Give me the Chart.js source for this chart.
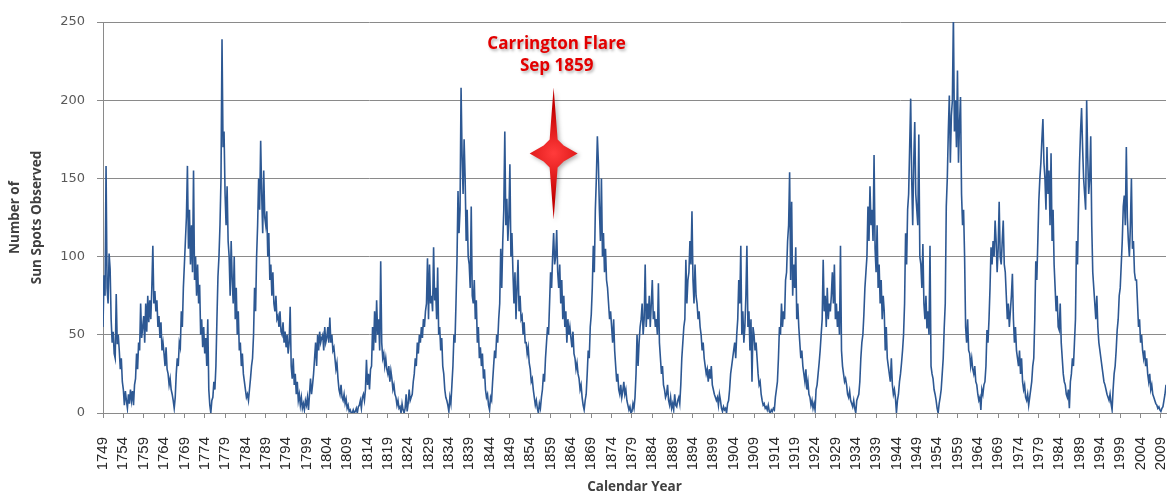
<!DOCTYPE html>
<html>
<head>
<meta charset="utf-8">
<script src="https://cdn.jsdelivr.net/npm/chart.js@4.4.1/dist/chart.umd.min.js"></script>
<style>
  html, body { margin: 0; padding: 0; background: #fff; }
  #wrap { width: 1167px; height: 496px; }
</style>
</head>
<body>
<div id="wrap"><canvas id="ch-sunspots" width="1167" height="496"></canvas></div>
<script>
// ── Datos: manchas solares, 4 lecturas por año desde 1749 ────────────────
const START_YEAR = 1749;
const PER_YEAR   = 4;

const SUNSPOTS = [
/*1749*/ 55, 88, 75, 158,   /*1750*/ 80, 70, 102, 92,   /*1751*/ 60, 45, 52, 38,
/*1752*/ 35, 76, 44, 50,    /*1753*/ 40, 28, 35, 20,    /*1754*/ 15, 5, 14, 8,
/*1755*/ 3, 12, 6, 15,      /*1756*/ 8, 14, 5, 18,      /*1757*/ 22, 38, 28, 45,
/*1758*/ 40, 70, 48, 55,    /*1759*/ 62, 45, 70, 52,    /*1760*/ 75, 58, 72, 60,
/*1761*/ 80, 107, 70, 78,   /*1762*/ 65, 72, 55, 62,    /*1763*/ 48, 58, 40, 45,
/*1764*/ 38, 30, 42, 28,    /*1765*/ 25, 18, 22, 15,    /*1766*/ 12, 8, 3, 10,
/*1767*/ 25, 35, 30, 45,    /*1768*/ 42, 65, 55, 80,    /*1769*/ 95, 110, 125, 158,
/*1770*/ 105, 130, 95, 120, /*1771*/ 90, 155, 85, 100,  /*1772*/ 75, 95, 70, 82,
/*1773*/ 50, 60, 42, 55,    /*1774*/ 38, 48, 30, 60,    /*1775*/ 15, 5, 0, 8,
/*1776*/ 10, 20, 15, 30,    /*1777*/ 60, 87, 100, 120,  /*1778*/ 150, 239, 170, 180,
/*1779*/ 140, 120, 145, 110,/*1780*/ 100, 75, 110, 85,  /*1781*/ 70, 100, 60, 80,
/*1782*/ 50, 65, 40, 45,    /*1783*/ 30, 38, 25, 20,    /*1784*/ 15, 10, 12, 8,
/*1785*/ 15, 22, 30, 35,    /*1786*/ 50, 80, 65, 100,   /*1787*/ 120, 150, 130, 174,
/*1788*/ 140, 115, 155, 125,/*1789*/ 120, 129, 100, 115,/*1790*/ 85, 95, 75, 90,
/*1791*/ 70, 65, 75, 60,    /*1792*/ 62, 55, 65, 52,    /*1793*/ 50, 58, 45, 52,
/*1794*/ 42, 50, 38, 45,    /*1795*/ 68, 30, 22, 35,    /*1796*/ 18, 25, 12, 20,
/*1797*/ 8, 12, 5, 10,      /*1798*/ 3, 6, 2, 8,        /*1799*/ 5, 10, 2, 12,
/*1800*/ 22, 12, 18, 25,    /*1801*/ 35, 45, 30, 50,    /*1802*/ 40, 52, 45, 48,
/*1803*/ 50, 40, 55, 45,    /*1804*/ 48, 55, 45, 61,    /*1805*/ 45, 50, 40, 42,
/*1806*/ 35, 28, 32, 22,    /*1807*/ 15, 12, 18, 10,    /*1808*/ 8, 12, 6, 9,
/*1809*/ 3, 5, 1, 2,        /*1810*/ 0, 0, 2, 0,        /*1811*/ 1, 3, 0, 4,
/*1812*/ 5, 8, 3, 10,       /*1813*/ 12, 8, 15, 34,     /*1814*/ 18, 25, 15, 28,
/*1815*/ 30, 55, 40, 65,    /*1816*/ 45, 72, 50, 60,    /*1817*/ 40, 97, 45, 35,
/*1818*/ 38, 30, 35, 28,    /*1819*/ 25, 30, 20, 27,    /*1820*/ 22, 15, 18, 12,
/*1821*/ 10, 5, 8, 3,       /*1822*/ 4, 0, 6, 2,        /*1823*/ 0, 3, 12, 1,
/*1824*/ 6, 15, 8, 10,      /*1825*/ 12, 20, 25, 35,    /*1826*/ 30, 45, 38, 50,
/*1827*/ 45, 55, 48, 60,    /*1828*/ 55, 65, 70, 99,    /*1829*/ 60, 95, 70, 75,
/*1830*/ 65, 106, 72, 80,   /*1831*/ 60, 93, 50, 55,    /*1832*/ 40, 48, 30, 25,
/*1833*/ 15, 10, 8, 5,      /*1834*/ 1, 10, 6, 18,      /*1835*/ 30, 50, 45, 70,
/*1836*/ 98, 142, 115, 130, /*1837*/ 208, 165, 140, 175,/*1838*/ 150, 110, 130, 100,
/*1839*/ 95, 80, 132, 75,   /*1840*/ 70, 85, 60, 72,    /*1841*/ 45, 55, 35, 42,
/*1842*/ 30, 38, 22, 28,    /*1843*/ 15, 10, 12, 5,     /*1844*/ 2, 10, 8, 20,
/*1845*/ 30, 40, 35, 50,    /*1846*/ 45, 60, 70, 105,   /*1847*/ 80, 110, 130, 180,
/*1848*/ 120, 137, 110, 125,/*1849*/ 159, 100, 115, 90, /*1850*/ 70, 90, 60, 80,
/*1851*/ 98, 65, 75, 60,    /*1852*/ 62, 50, 58, 45,    /*1853*/ 45, 38, 42, 32,
/*1854*/ 28, 20, 22, 15,    /*1855*/ 10, 5, 8, 3,       /*1856*/ 0, 6, 3, 10,
/*1857*/ 15, 25, 20, 35,    /*1858*/ 45, 55, 50, 70,    /*1859*/ 90, 80, 100, 115,
/*1860*/ 95, 100, 117, 90,  /*1861*/ 80, 95, 70, 85,    /*1862*/ 60, 75, 55, 65,
/*1863*/ 45, 60, 50, 55,    /*1864*/ 48, 42, 52, 38,    /*1865*/ 35, 28, 32, 25,
/*1866*/ 22, 15, 18, 10,    /*1867*/ 5, 2, 8, 12,       /*1868*/ 25, 40, 35, 55,
/*1869*/ 63, 80, 107, 90,   /*1870*/ 130, 150, 177, 160,/*1871*/ 130, 110, 150, 100,
/*1872*/ 115, 90, 105, 85,  /*1873*/ 80, 70, 60, 65,    /*1874*/ 55, 45, 60, 40,
/*1875*/ 30, 20, 25, 15,    /*1876*/ 12, 18, 10, 14,    /*1877*/ 20, 12, 15, 8,
/*1878*/ 5, 2, 4, 0,        /*1879*/ 1, 6, 3, 10,       /*1880*/ 25, 50, 30, 45,
/*1881*/ 55, 60, 70, 50,    /*1882*/ 60, 95, 55, 70,    /*1883*/ 60, 75, 55, 70,
/*1884*/ 85, 60, 65, 55,    /*1885*/ 60, 50, 83, 45,    /*1886*/ 35, 25, 30, 18,
/*1887*/ 15, 10, 12, 18,    /*1888*/ 8, 5, 10, 3,       /*1889*/ 6, 2, 12, 5,
/*1890*/ 4, 8, 10, 6,       /*1891*/ 18, 35, 45, 55,    /*1892*/ 60, 98, 70, 85,
/*1893*/ 90, 110, 95, 129,  /*1894*/ 85, 70, 95, 75,    /*1895*/ 70, 60, 65, 55,
/*1896*/ 50, 40, 45, 35,    /*1897*/ 30, 25, 28, 20,    /*1898*/ 28, 22, 30, 18,
/*1899*/ 15, 12, 10, 8,     /*1900*/ 10, 5, 12, 8,      /*1901*/ 3, 1, 4, 2,
/*1902*/ 3, 0, 6, 8,        /*1903*/ 15, 25, 30, 35,    /*1904*/ 40, 45, 35, 50,
/*1905*/ 60, 85, 70, 107,   /*1906*/ 50, 65, 45, 55,    /*1907*/ 75, 107, 55, 65,
/*1908*/ 40, 60, 20, 55,    /*1909*/ 50, 40, 45, 35,    /*1910*/ 25, 18, 20, 12,
/*1911*/ 8, 5, 6, 3,        /*1912*/ 4, 2, 5, 1,        /*1913*/ 0, 2, 1, 3,
/*1914*/ 2, 10, 15, 20,     /*1915*/ 35, 55, 50, 70,    /*1916*/ 55, 65, 60, 85,
/*1917*/ 90, 110, 120, 154, /*1918*/ 85, 135, 75, 95,   /*1919*/ 80, 106, 60, 70,
/*1920*/ 55, 45, 35, 40,    /*1921*/ 30, 25, 20, 28,    /*1922*/ 15, 20, 12, 10,
/*1923*/ 5, 8, 3, 6,       /*1924*/ 2, 15, 18, 25,     /*1925*/ 32, 40, 50, 60,
/*1926*/ 98, 65, 75, 55,    /*1927*/ 80, 60, 70, 65,    /*1928*/ 75, 90, 70, 95,
/*1929*/ 60, 70, 55, 65,    /*1930*/ 50, 107, 40, 30,   /*1931*/ 25, 20, 22, 18,
/*1932*/ 12, 10, 14, 8,     /*1933*/ 6, 4, 8, 3,        /*1934*/ 0, 8, 10, 12,
/*1935*/ 20, 35, 45, 50,    /*1936*/ 63, 80, 90, 100,   /*1937*/ 132, 110, 145, 120,
/*1938*/ 130, 110, 165, 105,/*1939*/ 90, 120, 80, 95,   /*1940*/ 70, 85, 60, 75,
/*1941*/ 65, 40, 55, 35,    /*1942*/ 30, 25, 20, 35,    /*1943*/ 18, 12, 15, 10,
/*1944*/ 0, 8, 12, 20,      /*1945*/ 25, 32, 40, 50,    /*1946*/ 70, 115, 95, 130,
/*1947*/ 140, 170, 201, 150,/*1948*/ 120, 160, 186, 140,/*1949*/ 130, 120, 178, 100,
/*1950*/ 95, 80, 108, 70,   /*1951*/ 60, 75, 54, 65,    /*1952*/ 50, 107, 30, 25,
/*1953*/ 22, 15, 12, 8,     /*1954*/ 3, 0, 6, 10,       /*1955*/ 15, 25, 35, 55,
/*1956*/ 70, 132, 150, 180, /*1957*/ 203, 160, 190, 200,/*1958*/ 254, 180, 200, 170,
/*1959*/ 219, 160, 185, 202,/*1960*/ 140, 120, 130, 100,/*1961*/ 55, 45, 60, 40,
/*1962*/ 38, 30, 35, 28,    /*1963*/ 25, 30, 20, 18,    /*1964*/ 12, 8, 10, 2,
/*1965*/ 15, 12, 18, 20,    /*1966*/ 30, 53, 45, 60,    /*1967*/ 80, 106, 95, 110,
/*1968*/ 100, 123, 110, 90, /*1969*/ 105, 135, 100, 95, /*1970*/ 110, 123, 95, 90,
/*1971*/ 75, 60, 70, 55,    /*1972*/ 65, 75, 89, 60,    /*1973*/ 45, 55, 40, 35,
/*1974*/ 30, 40, 25, 35,    /*1975*/ 20, 15, 18, 10,    /*1976*/ 8, 12, 5, 10,
/*1977*/ 15, 20, 30, 35,    /*1978*/ 60, 97, 85, 110,   /*1979*/ 136, 150, 160, 175,
/*1980*/ 188, 160, 150, 130,/*1981*/ 170, 140, 155, 120,/*1982*/ 166, 110, 130, 95,
/*1983*/ 80, 65, 75, 55,    /*1984*/ 53, 70, 45, 35,    /*1985*/ 25, 20, 18, 12,
/*1986*/ 10, 15, 3, 20,     /*1987*/ 25, 35, 30, 45,    /*1988*/ 60, 110, 95, 130,
/*1989*/ 160, 180, 195, 170,/*1990*/ 150, 140, 130, 200,/*1991*/ 165, 140, 150, 177,
/*1992*/ 120, 90, 80, 70,   /*1993*/ 60, 75, 55, 45,    /*1994*/ 40, 35, 30, 25,
/*1995*/ 20, 18, 15, 12,    /*1996*/ 10, 8, 12, 6,      /*1997*/ 2, 15, 25, 30,
/*1998*/ 40, 53, 60, 75,    /*1999*/ 80, 95, 110, 132,  /*2000*/ 139, 120, 170, 125,
/*2001*/ 110, 100, 120, 150,/*2002*/ 105, 110, 90, 85,  /*2003*/ 85, 70, 55, 60,
/*2004*/ 45, 50, 40, 35,    /*2005*/ 40, 30, 35, 25,    /*2006*/ 20, 25, 15, 18,
/*2007*/ 12, 10, 8, 6,      /*2008*/ 5, 3, 4, 2,        /*2009*/ 1, 3, 4, 8,
/*2010*/ 12, 18,
];

const X_TICKS = [
    1749, 1754, 1759, 1764, 1769, 1774, 1779, 1784, 1789, 1794, 1799,
    1804, 1809, 1814, 1819, 1824, 1829, 1834, 1839, 1844, 1849, 1854,
    1859, 1864, 1869, 1874, 1879, 1884, 1889, 1894, 1899, 1904, 1909,
    1914, 1919, 1924, 1929, 1934, 1939, 1944, 1949, 1954, 1959, 1964,
    1969, 1974, 1979, 1984, 1989, 1994, 1999, 2004, 2009,
];
const Y_TICKS = [0, 50, 100, 150, 200, 250];

const FLARE_DATE  = 1859.75;   // Sep 1859
const FLARE_LEVEL = 166;
const FLARE_LABEL = ['Carrington Flare', 'Sep 1859'];

// ── Estrella de 4 puntas (px, relativo al centro) ────────────────────────
const STAR = [
    [0, -66], [4, -14], [10, -8], [24, 0], [10, 8], [4, 14],
    [0, 66], [-4, 14], [-10, 8], [-24, 0], [-10, -8], [-4, -14],
];

const flarePlugin = {
    id: 'flare',
    afterDatasetsDraw(chart) {
        const { ctx, scales: { x, y } } = chart;
        const cx = x.getPixelForValue(FLARE_DATE);
        const cy = y.getPixelForValue(FLARE_LEVEL);

        ctx.save();
        ctx.translate(cx, cy);
        ctx.shadowColor = 'rgba(0,0,0,0.3)';
        ctx.shadowBlur = 4; ctx.shadowOffsetX = 2; ctx.shadowOffsetY = 2;
        const g = ctx.createRadialGradient(0, 0, 1, 0, 0, 45);
        g.addColorStop(0, '#ff3a3a');
        g.addColorStop(1, '#c40000');
        ctx.fillStyle = g;
        ctx.beginPath();
        STAR.forEach(([px, py], i) => i ? ctx.lineTo(px, py) : ctx.moveTo(px, py));
        ctx.closePath();
        ctx.fill();
        ctx.restore();

        ctx.save();
        ctx.font = 'bold 17px "Open Sans"';
        ctx.textAlign = 'center';
        ctx.textBaseline = 'middle';
        ctx.fillStyle = '#e30000';
        ctx.shadowColor = 'rgba(0,0,0,0.3)';
        ctx.shadowBlur = 3; ctx.shadowOffsetX = 1.5; ctx.shadowOffsetY = 1.5;
        ctx.fillText(FLARE_LABEL[0], cx + 3, cy - 109);
        ctx.fillText(FLARE_LABEL[1], cx + 3, cy - 87);
        ctx.restore();
    },
};

const points = SUNSPOTS.map((v, i) => ({ x: START_YEAR + i / PER_YEAR, y: v }));

new Chart(document.getElementById('ch-sunspots').getContext('2d'), {
    type: 'line',
    data: {
        datasets: [{
            data: points,
            borderColor: '#2d5893',
            borderWidth: 1.6,
            pointRadius: 0,
            tension: 0,
        }],
    },
    options: {
        responsive: false, animation: false, devicePixelRatio: 1,
        layout: { padding: { top: 22, right: 1, bottom: 0, left: 0 } },
        plugins: { legend: { display: false }, tooltip: { enabled: false } },
        scales: {
            x: {
                type: 'linear',
                min: START_YEAR, max: 2010.25,
                afterFit: s => { s.height = 83; s.paddingLeft = 0; s.paddingRight = 0; },
                afterBuildTicks: axis => { axis.ticks = X_TICKS.map(v => ({ value: v })); },
                grid: { drawOnChartArea: false, drawTicks: true, tickLength: 5, color: '#8a8a8a' },
                border: { color: '#8a8a8a' },
                ticks: {
                    autoSkip: false, minRotation: 90, maxRotation: 90, padding: 19,
                    color: '#262626', font: { family: 'Liberation Sans', size: 15 },
                    callback: v => String(v),
                },
                title: {
                    display: true, text: 'Calendar Year', color: '#404040',
                    font: { family: 'Open Sans', size: 13.5, weight: 'bold' },
                    padding: { top: 0, bottom: 1 },
                },
            },
            y: {
                min: 0, max: 250,
                afterFit: s => { s.width = 103; },
                afterBuildTicks: axis => { axis.ticks = Y_TICKS.map(v => ({ value: v })); },
                grid: { color: '#8a8a8a', tickLength: 6 },
                border: { color: '#8a8a8a' },
                ticks: {
                    padding: 12, color: '#595959',
                    font: { family: 'DejaVu Sans', size: 13 },
                },
                title: {
                    display: true, text: ['Number of', 'Sun Spots Observed'], color: '#404040',
                    font: { family: 'Open Sans', size: 13.5, weight: 'bold', lineHeight: 1.65 },
                    padding: { top: 4, bottom: 0 },
                },
            },
        },
    },
    plugins: [flarePlugin],
});
</script>
</body>
</html>
